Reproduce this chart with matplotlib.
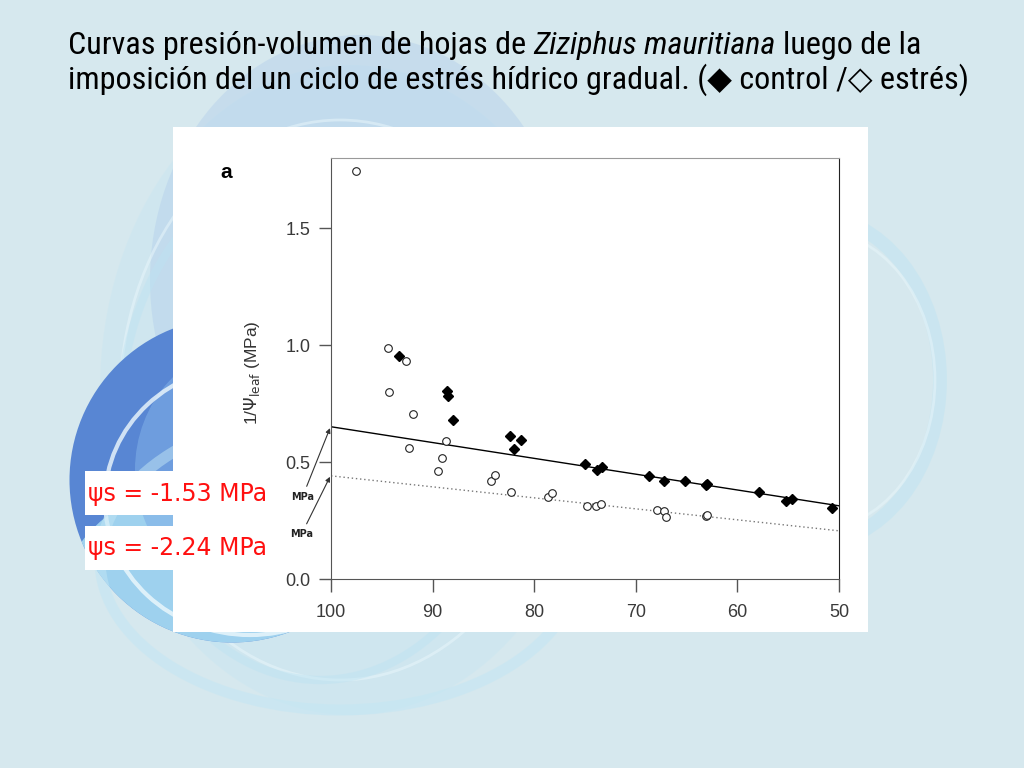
import matplotlib
matplotlib.use("Agg")
import matplotlib.pyplot as plt
from matplotlib.patches import Ellipse, Rectangle
from matplotlib import font_manager

W, H = 1024, 768

# Datos (contenido relativo de agua, %  vs  1/Psi hoja)
rwc_control = [93.3, 88.6, 88.5, 88.0, 82.4, 82.0, 81.3, 75.0, 73.8, 73.3,
               68.7, 67.2, 65.2, 63.1, 63.0, 57.9, 55.2, 54.6, 50.7]
inv_control = [0.953, 0.803, 0.784, 0.679, 0.610, 0.557, 0.596, 0.490, 0.467, 0.477,
               0.439, 0.421, 0.420, 0.403, 0.407, 0.370, 0.334, 0.343, 0.303]

rwc_stress = [97.5, 94.4, 92.6, 94.3, 91.9, 92.3, 88.7, 89.1, 89.5, 84.3, 83.9,
              82.3, 78.6, 78.2, 74.8, 73.9, 73.4, 67.9, 67.2, 67.0, 63.1, 63.0]
inv_stress = [1.746, 0.989, 0.931, 0.800, 0.707, 0.560, 0.589, 0.517, 0.463, 0.421, 0.443,
              0.374, 0.350, 0.367, 0.314, 0.314, 0.321, 0.294, 0.291, 0.267, 0.270, 0.274]

# rectas ajustadas
fit_x = [100, 50]
fit_control = [0.651, 0.313]
fit_stress = [0.441, 0.206]

xticks = [100, 90, 80, 70, 60, 50]
yticks = [0.0, 0.5, 1.0, 1.5]
ytick_labels = ["0.0", "0.5", "1.0", "1.5"]

psi_labels = ["\u03c8s = -1.53 MPa", "\u03c8s = -2.24 MPa"]

title_line1 = [("Curvas presión-volumen de hojas de", "normal"),
               ("Ziziphus mauritiana", "italic"),
               ("luego de la", "normal")]
title_line2 = [("imposición del un ciclo de estrés hídrico gradual. (\u25c6 control /\u25c7 estrés)", "normal")]

# fuente estrecha para el título si existe
title_font = ["DejaVu Sans"]
for cand in ["Liberation Sans Narrow", "Roboto Condensed"]:
    try:
        font_manager.findfont(cand, fallback_to_default=False)
        title_font = [cand, "DejaVu Sans"]
        break
    except Exception:
        pass

fig = plt.figure(figsize=(W / 100, H / 100), dpi=100)
fig.patch.set_facecolor("#d6e8ee")

# fondo decorativo (coordenadas en píxeles)
bg = fig.add_axes([0, 0, 1, 1], zorder=0)
bg.set_xlim(0, W)
bg.set_ylim(H, 0)
bg.axis("off")
bg.add_patch(Ellipse((350, 390), 500, 650, facecolor="#c9e6f1", alpha=0.5, lw=0))
bg.add_patch(Ellipse((360, 280), 420, 490, facecolor="#a4c3ea", alpha=0.3, lw=0))
bg.add_patch(Ellipse((340, 400), 440, 560, facecolor="none", edgecolor="#eaf7fb", lw=2, alpha=0.5))
bg.add_patch(Ellipse((320, 420), 400, 520, facecolor="none", edgecolor="#bde3f2", lw=6, alpha=0.45))
blob = Ellipse((232, 480), 325, 325, facecolor="#5886d3", lw=0)
bg.add_patch(blob)
low = Ellipse((245, 590), 360, 230, facecolor="#a6daf2", alpha=0.9, lw=0)
bg.add_patch(low)
low.set_clip_path(blob)
mid = Ellipse((250, 470), 230, 250, facecolor="#7eaee6", alpha=0.6, lw=0)
bg.add_patch(mid)
mid.set_clip_path(blob)
arc = Ellipse((250, 500), 290, 270, facecolor="none", edgecolor="#eef9fd", lw=3, alpha=0.8)
bg.add_patch(arc)
arc.set_clip_path(blob)
bg.add_patch(Ellipse((340, 560), 480, 300, facecolor="none", edgecolor="#c2e6f4", lw=8, alpha=0.5))
bg.add_patch(Ellipse((810, 380), 260, 330, facecolor="none", edgecolor="#bfe4f2", lw=10, alpha=0.5))
bg.add_patch(Ellipse((815, 380), 240, 300, facecolor="none", edgecolor="#e8f6fa", lw=2, alpha=0.5))

# panel blanco del gráfico
bg.add_patch(Rectangle((173, 127), 695, 505, facecolor="white", lw=0))

# cajas blancas de las etiquetas rojas
bg.add_patch(Rectangle((85, 471), 184, 44, facecolor="white", lw=0))
bg.add_patch(Rectangle((85, 526), 184, 44, facecolor="white", lw=0))

# gráfico
ax = fig.add_axes([331 / W, 1 - 579 / H, 508 / W, 421 / H], zorder=2)
ax.patch.set_alpha(0)
ax.plot(fit_x, fit_control, color="black", lw=1.0, zorder=2)
ax.plot(fit_x, fit_stress, color="#777777", lw=1.0, ls=(0, (1, 2)), zorder=2)
ax.plot(rwc_control, inv_control, ls="none", marker="D", ms=5.5, mfc="black",
        mec="black", zorder=3)
ax.plot(rwc_stress, inv_stress, ls="none", marker="o", ms=5.5, mfc="white",
        mec="#222222", mew=0.8, zorder=3)

ax.set_xlim(100, 50)
ax.set_ylim(0, 1.80)
ax.set_xticks(xticks)
ax.set_yticks(yticks)
ax.set_yticklabels(ytick_labels)
ax.tick_params(axis="both", direction="out", length=9, width=1, color="#555555",
               labelsize=13, labelcolor="#3a3a3a", pad=6)
ax.tick_params(axis="x", pad=9)
for lab in ax.get_xticklabels() + ax.get_yticklabels():
    lab.set_family("Liberation Sans")
ax.spines["left"].set_color("#555555")
ax.spines["bottom"].set_color("#555555")
ax.spines["top"].set_color("#999999")
ax.spines["right"].set_color("#222222")
ax.set_ylabel(r"1/$\Psi_{\rm leaf}$ (MPa)", fontsize=12.5, color="#333333",
              family="Liberation Sans")
ax.yaxis.set_label_coords(-0.135, 0.49)

for xy, xyt in [((100.1, 0.645), (102.8, 0.352)), ((100.1, 0.437), (102.9, 0.192))]:
    ax.annotate("MPa", xy=xy, xytext=xyt, fontsize=7, fontweight="bold",
                ha="center", va="center", annotation_clip=False, color="#222222",
                arrowprops=dict(arrowstyle="-|>", color="#333333", lw=0.8,
                                mutation_scale=7, shrinkA=2, shrinkB=0))

fig.text(226 / W, 1 - 172 / H, "a", fontsize=15, fontweight="bold",
         family="Liberation Sans", ha="center", va="center", zorder=3)

# etiquetas rojas
for lab, yc in zip(psi_labels, [494, 548]):
    fig.text(88 / W, 1 - yc / H, lab, fontsize=17, color="#ff1010",
             family="DejaVu Sans", ha="left", va="center", zorder=4)

# título con tramo en cursiva
fig.canvas.draw()
renderer = fig.canvas.get_renderer()


def width_of(txt, size, style):
    t = fig.text(0, 0, txt, fontsize=size, style=style, family=title_font)
    w = t.get_window_extent(renderer).width
    t.remove()
    return w


def line_width(segs, size):
    sp = width_of("x x", size, "normal") - width_of("xx", size, "normal")
    return sum(width_of(s, size, st) for s, st in segs) + sp * (len(segs) - 1), sp


target = 922 - 68
size = 20.0
w1, _ = line_width(title_line1, size)
size = size * target / w1


def draw_line(segs, x0, yc, size):
    _, sp = line_width(segs, size)
    x = x0
    for s, st in segs:
        t = fig.text(x / W, 1 - yc / H, s, fontsize=size, style=st,
                     family=title_font, ha="left", va="center", color="black")
        x += t.get_window_extent(renderer).width + sp


draw_line(title_line1, 68, 45, size)
draw_line(title_line2, 68, 80, size)

fig.savefig("out.png", dpi=100, facecolor=fig.get_facecolor())
